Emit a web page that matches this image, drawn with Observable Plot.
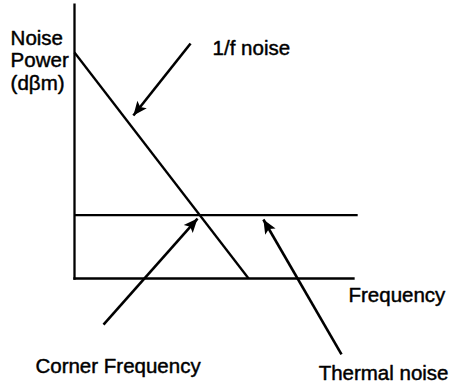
<!DOCTYPE html>
<html>
<head>
<meta charset="utf-8">
<script src="https://cdn.jsdelivr.net/npm/d3@7"></script>
<script src="https://cdn.jsdelivr.net/npm/@observablehq/plot@0.6"></script>
<style>
  html, body { margin: 0; padding: 0; background: #fff; }
  svg { display: block; }
</style>
</head>
<body>
<div id="chart"></div>
<script>
// Conceptual units: frequency (x) and noise power (y), arbitrary
const axisLines = [
  {name: "y-axis", x1: 0, y1: 0, x2: 0, y2: 12.12},
  {name: "x-axis", x1: 0, y1: 0, x2: 10, y2: 0}
];
const thermalNoise = [{x1: 0, y1: 2.8, x2: 10.15, y2: 2.8}];
const flickerNoise = [{x1: 0, y1: 10, x2: 6.24, y2: 0}];
const arrows = [
  {name: "1/f", x1: 4.16, y1: 10.4, x2: 2.11, y2: 7.21},
  {name: "corner", x1: 1.04, y1: -2.04, x2: 4.41, y2: 2.65},
  {name: "thermal", x1: 9.57, y1: -3.36, x2: 6.77, y2: 2.61}
];
const labels = [
  {text: "Noise\nPower\n(dβm)", x: -2.29, y: 8.36},
  {text: "1/f noise", x: 4.95, y: 9.91},
  {text: "Frequency", x: 9.82, y: -1.06},
  {text: "Corner Frequency", x: -1.40, y: -4.16},
  {text: "Thermal noise", x: 8.75, y: -4.51}
];

const chart = Plot.plot({
  width: 462,
  height: 385,
  margin: 0,
  x: {domain: [0, 10], range: [74, 353], axis: null},
  y: {domain: [0, 10], range: [278, 52], axis: null},
  style: {fontFamily: "'Liberation Sans', Arial, sans-serif", background: "#fff"},
  marks: [
    Plot.link(axisLines, {x1: "x1", y1: "y1", x2: "x2", y2: "y2", stroke: "#000", strokeWidth: 2.3, strokeLinecap: "square"}),
    Plot.link(thermalNoise, {x1: "x1", y1: "y1", x2: "x2", y2: "y2", stroke: "#000", strokeWidth: 2.3}),
    Plot.link(flickerNoise, {x1: "x1", y1: "y1", x2: "x2", y2: "y2", stroke: "#000", strokeWidth: 2.3}),
    Plot.link(arrows, {x1: "x1", y1: "y1", x2: "x2", y2: "y2", stroke: "#000", strokeWidth: 2.6}),
    Plot.text(labels, {x: "x", y: "y", text: "text", textAnchor: "start", lineAnchor: "bottom", lineHeight: 1.08, fontSize: 20.5, fill: "#000", stroke: "#000", strokeWidth: 0.45})
  ]
});

// filled arrowheads
const svg = d3.select(chart);
svg.append("defs").append("marker")
  .attr("id", "arrowhead-filled")
  .attr("viewBox", "-15 -7 16 14")
  .attr("markerUnits", "userSpaceOnUse")
  .attr("markerWidth", 16)
  .attr("markerHeight", 14)
  .attr("refX", 0).attr("refY", 0)
  .attr("orient", "auto")
  .append("path")
  .attr("d", "M-14,-6L0,0L-14,6L-11,0Z")
  .attr("fill", "#000")
  .attr("stroke", "none");
const groups = Array.from(chart.querySelectorAll("g"))
  .filter(g => g.querySelectorAll(":scope > path").length === arrows.length);
const target = groups[groups.length - 1];
if (target) {
  target.querySelectorAll(":scope > path").forEach(p => p.setAttribute("marker-end", "url(#arrowhead-filled)"));
}

document.getElementById("chart").appendChild(chart);
</script>
</body>
</html>
